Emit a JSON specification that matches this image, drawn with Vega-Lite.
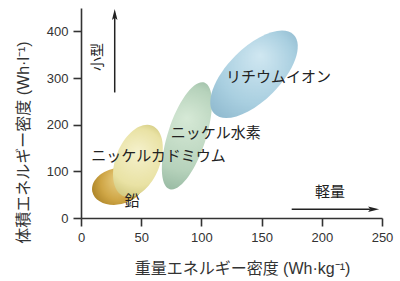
{
  "$schema": "https://vega.github.io/schema/vega-lite/v6.json",
  "width": 301,
  "height": 210,
  "autosize": {"type": "none"},
  "padding": {"left": 81, "top": 8, "right": 18, "bottom": 63},
  "background": "white",
  "config": {
    "view": {"stroke": null},
    "font": "Liberation Sans, Noto Sans CJK JP",
    "axis": {
      "domainColor": "#333", "domainWidth": 1.6, "tickColor": "#333", "tickWidth": 1.6, "tickSize": 8,
      "labelFont": "Liberation Sans", "labelFontSize": 13, "labelColor": "#333", "labelPadding": 5, "labelFlush": false,
      "titleFont": "Liberation Sans, Noto Sans CJK JP", "titleFontSize": 16, "titleFontWeight": "normal", "titleColor": "#333",
      "grid": false
    }
  },
  "datasets": {
    "ellipses": [
      {"name": "lead", "x": 30.5, "y": 68},
      {"name": "nicd", "x": 47.3, "y": 122},
      {"name": "nimh", "x": 88, "y": 176},
      {"name": "liion", "x": 143.7, "y": 308}
    ],
    "labels": [
      {"label": "リチウムイオン", "x": 164, "y": 302},
      {"label": "ニッケル水素", "x": 112, "y": 182},
      {"label": "ニッケルカドミウム", "x": 64.4, "y": 133},
      {"label": "鉛", "x": 42.4, "y": 36},
      {"label": "軽量", "x": 206.8, "y": 56}
    ],
    "arrows": [
      {"dir": "up", "x": 28, "y": 269, "x2": 28, "y2": 438},
      {"dir": "right", "x": 175, "y": 19, "x2": 240, "y2": 19}
    ],
    "heads": [
      {"dir": "up", "x": 28, "y": 436},
      {"dir": "right", "x": 243, "y": 19}
    ],
    "side": [
      {"label": "小型", "x": 14, "y": 345}
    ]
  },
  "encoding": {
    "x": {"field": "x", "type": "quantitative", "scale": {"domain": [0, 250], "nice": false},
      "axis": {"values": [0, 50, 100, 150, 200, 250], "title": "重量エネルギー密度 (Wh·kg⁻¹)", "titleX": 161, "titleY": 50, "titleBaseline": "middle"}},
    "y": {"field": "y", "type": "quantitative", "scale": {"domain": [0, 450], "nice": false},
      "axis": {"values": [0, 100, 200, 300, 400], "title": "体積エネルギー密度 (Wh·l⁻¹)", "titleX": -58, "titleY": 134, "titleAngle": -90, "titleBaseline": "middle", "titleAlign": "center"}}
  },
  "layer": [
    {
      "data": {"name": "ellipses"},
      "transform": [{"filter": {"field": "name", "equal": "lead"}}],
      "mark": {"type": "point", "filled": true, "opacity": 1, "size": 2704, "angle": 348,
        "shape": "M -1 0 A 1 0.7 0 1 1 1 0 A 1 0.7 0 1 1 -1 0 Z",
        "fill": {"gradient": "radial", "x1": 0.58, "y1": 0.35, "r1": 0, "x2": 0.5, "y2": 0.5, "r2": 0.62,
          "stops": [{"offset": 0, "color": "#ecd48c"}, {"offset": 0.55, "color": "#cfa646"}, {"offset": 1, "color": "#9a7218"}]}}
    },
    {
      "data": {"name": "ellipses"},
      "transform": [{"filter": {"field": "name", "equal": "nicd"}}],
      "mark": {"type": "point", "filled": true, "opacity": 1, "size": 5776, "angle": 292,
        "shape": "M -1 0 A 1 0.58 0 1 1 1 0 A 1 0.58 0 1 1 -1 0 Z",
        "fill": {"gradient": "radial", "x1": 0.62, "y1": 0.45, "r1": 0, "x2": 0.5, "y2": 0.5, "r2": 0.62,
          "stops": [{"offset": 0, "color": "#f5f1cc"}, {"offset": 0.6, "color": "#e9e2a4"}, {"offset": 1, "color": "#c2b968"}]}}
    },
    {
      "data": {"name": "ellipses"},
      "transform": [{"filter": {"field": "name", "equal": "nimh"}}],
      "mark": {"type": "point", "filled": true, "opacity": 1, "size": 12544, "angle": 288,
        "shape": "M -1 0 A 1 0.34 0 1 1 1 0 A 1 0.34 0 1 1 -1 0 Z",
        "fill": {"gradient": "radial", "x1": 0.65, "y1": 0.45, "r1": 0, "x2": 0.5, "y2": 0.5, "r2": 0.62,
          "stops": [{"offset": 0, "color": "#d6e9d6"}, {"offset": 0.6, "color": "#b6d2bb"}, {"offset": 1, "color": "#88ad96"}]}}
    },
    {
      "data": {"name": "ellipses"},
      "transform": [{"filter": {"field": "name", "equal": "liion"}}],
      "mark": {"type": "point", "filled": true, "opacity": 1, "size": 12544, "angle": 315,
        "shape": "M -1 0 A 1 0.47 0 1 1 1 0 A 1 0.47 0 1 1 -1 0 Z",
        "fill": {"gradient": "radial", "x1": 0.66, "y1": 0.42, "r1": 0, "x2": 0.5, "y2": 0.5, "r2": 0.62,
          "stops": [{"offset": 0, "color": "#d0e7f1"}, {"offset": 0.55, "color": "#a9cfe0"}, {"offset": 1, "color": "#84b0c7"}]}}
    },
    {
      "data": {"name": "arrows"},
      "mark": {"type": "rule", "color": "#222", "strokeWidth": 1.5},
      "encoding": {"x2": {"field": "x2"}, "y2": {"field": "y2"}}
    },
    {
      "data": {"name": "heads"},
      "transform": [{"filter": {"field": "dir", "equal": "up"}}],
      "mark": {"type": "point", "filled": true, "opacity": 1, "color": "#222", "size": 121,
        "shape": "M 0 -1 L 0.5 1 L 0 0.6 L -0.5 1 Z"}
    },
    {
      "data": {"name": "heads"},
      "transform": [{"filter": {"field": "dir", "equal": "right"}}],
      "mark": {"type": "point", "filled": true, "opacity": 1, "color": "#222", "size": 121,
        "shape": "M 1 0 L -1 -0.5 L -0.6 0 L -1 0.5 Z"}
    },
    {
      "data": {"name": "labels"},
      "mark": {"type": "text", "font": "Noto Sans CJK JP", "fontSize": 15, "color": "#222", "align": "center", "baseline": "middle"},
      "encoding": {"text": {"field": "label"}}
    },
    {
      "data": {"name": "side"},
      "mark": {"type": "text", "font": "Noto Sans CJK JP", "fontSize": 14, "color": "#222", "align": "center", "baseline": "middle", "angle": 270},
      "encoding": {"text": {"field": "label"}}
    }
  ]
}
